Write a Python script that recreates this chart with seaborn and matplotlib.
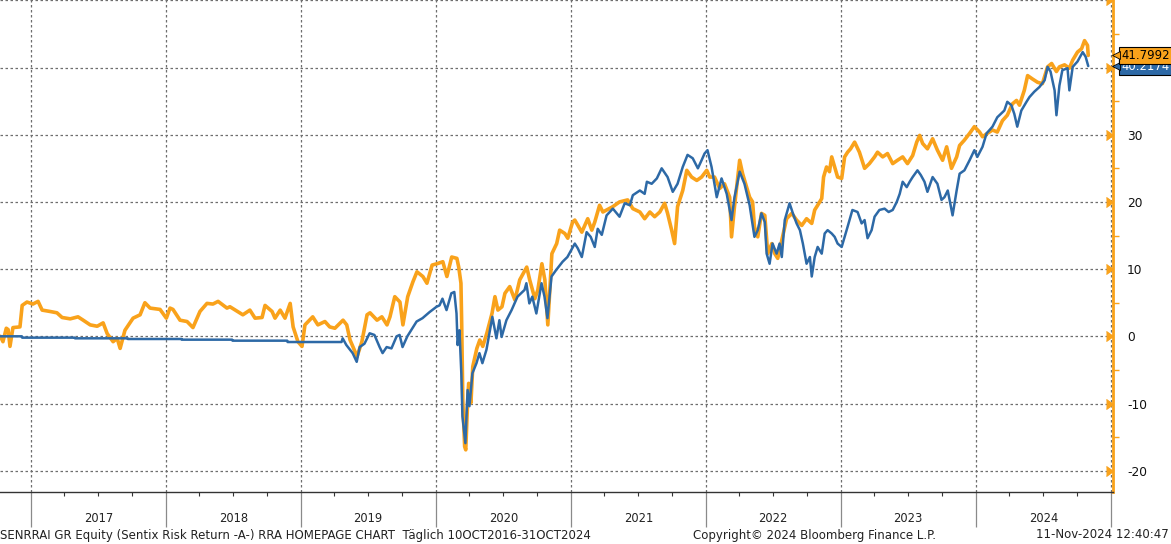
import numpy as np
import pandas as pd
import matplotlib
matplotlib.use("Agg")
import matplotlib.pyplot as plt
import matplotlib.dates as mdates
import matplotlib.transforms as mtransforms
import seaborn as sns

# --- data (percent performance) ---
orange_dates = [
    "2016-10-10", "2016-10-17", "2016-10-26", "2016-10-31", "2016-11-05", "2016-11-13", "2016-12-02",
    "2016-12-08", "2016-12-21", "2017-01-06", "2017-01-20", "2017-01-31", "2017-02-21", "2017-03-12",
    "2017-03-26", "2017-04-17", "2017-05-08", "2017-05-22", "2017-06-10", "2017-06-29", "2017-07-15",
    "2017-07-26", "2017-08-11", "2017-08-22", "2017-08-30", "2017-09-12", "2017-10-04", "2017-10-23",
    "2017-11-05", "2017-11-19", "2017-12-16", "2018-01-02", "2018-01-12", "2018-01-20", "2018-02-08",
    "2018-02-27", "2018-03-15", "2018-04-03", "2018-04-22", "2018-05-08", "2018-05-22", "2018-06-15",
    "2018-06-23", "2018-07-28", "2018-08-16", "2018-08-30", "2018-09-18", "2018-09-26", "2018-10-15",
    "2018-10-23", "2018-11-06", "2018-11-19", "2018-12-03", "2018-12-11", "2018-12-24", "2019-01-04",
    "2019-01-12", "2019-02-02", "2019-02-16", "2019-03-07", "2019-03-20", "2019-04-03", "2019-04-25",
    "2019-05-05", "2019-05-14", "2019-06-02", "2019-06-15", "2019-06-29", "2019-07-07", "2019-07-26",
    "2019-08-08", "2019-08-22", "2019-08-30", "2019-09-12", "2019-09-26", "2019-10-04", "2019-10-17",
    "2019-10-31", "2019-11-11", "2019-11-27", "2019-12-08", "2019-12-22", "2020-01-04", "2020-01-20",
    "2020-01-31", "2020-02-13", "2020-02-27", "2020-03-03", "2020-03-09", "2020-03-11", "2020-03-14",
    "2020-03-19", "2020-03-22", "2020-03-28", "2020-03-30", "2020-04-05", "2020-04-10", "2020-04-21",
    "2020-04-29", "2020-05-07", "2020-05-18", "2020-06-01", "2020-06-09", "2020-06-17", "2020-06-28",
    "2020-07-06", "2020-07-19", "2020-08-02", "2020-08-15", "2020-09-03", "2020-09-11", "2020-09-25",
    "2020-10-03", "2020-10-14", "2020-10-22", "2020-10-30", "2020-11-10", "2020-11-23", "2020-12-01",
    "2020-12-15", "2020-12-23", "2021-01-05", "2021-01-11", "2021-01-30", "2021-02-15", "2021-02-26",
    "2021-03-06", "2021-03-19", "2021-03-28", "2021-04-24", "2021-05-12", "2021-06-03", "2021-06-17",
    "2021-07-06", "2021-07-19", "2021-08-02", "2021-08-15", "2021-08-29", "2021-09-11", "2021-09-19",
    "2021-09-30", "2021-10-08", "2021-10-16", "2021-10-30", "2021-11-10", "2021-11-23", "2021-12-07",
    "2021-12-20", "2022-01-03", "2022-01-11", "2022-01-24", "2022-02-07", "2022-02-20", "2022-03-06",
    "2022-03-11", "2022-03-19", "2022-04-02", "2022-04-10", "2022-04-29", "2022-05-07", "2022-05-12",
    "2022-05-21", "2022-05-31", "2022-06-09", "2022-06-17", "2022-06-28", "2022-07-06", "2022-07-14",
    "2022-07-25", "2022-08-07", "2022-08-21", "2022-09-03", "2022-09-17", "2022-09-30", "2022-10-14",
    "2022-10-22", "2022-10-30", "2022-11-10", "2022-11-15", "2022-11-23", "2022-12-01", "2022-12-07",
    "2022-12-15", "2022-12-23", "2023-01-03", "2023-01-11", "2023-01-19", "2023-01-27", "2023-02-07",
    "2023-02-20", "2023-03-06", "2023-03-19", "2023-04-02", "2023-04-10", "2023-04-24", "2023-05-07",
    "2023-05-21", "2023-06-03", "2023-06-17", "2023-06-30", "2023-07-14", "2023-07-25", "2023-08-02",
    "2023-08-10", "2023-08-23", "2023-09-06", "2023-09-19", "2023-10-03", "2023-10-14", "2023-10-27",
    "2023-11-10", "2023-11-18", "2023-12-01", "2023-12-15", "2023-12-28", "2024-01-11", "2024-01-19",
    "2024-02-01", "2024-02-15", "2024-02-28", "2024-03-13", "2024-03-26", "2024-04-09", "2024-04-20",
    "2024-04-28", "2024-05-11", "2024-05-20", "2024-06-02", "2024-06-16", "2024-06-29", "2024-07-13",
    "2024-07-24", "2024-08-06", "2024-08-14", "2024-08-28", "2024-09-10", "2024-09-19", "2024-10-02",
    "2024-10-13", "2024-10-21", "2024-10-29", "2024-10-31",
]
orange_values = [
    0.0, -0.8, 1.2, 1.0, -1.5, 1.3, 1.4,
    4.6, 5.1, 4.8, 5.2, 3.9, 3.7, 3.5,
    2.8, 2.6, 2.9, 2.4, 1.7, 1.5, 2.0,
    0.4, -0.8, -0.3, -1.8, 0.9, 2.7, 3.2,
    5.0, 4.2, 4.0, 2.7, 4.2, 4.0, 2.4,
    2.2, 1.3, 3.7, 4.9, 4.8, 5.2, 4.2,
    4.4, 3.2, 3.9, 2.7, 2.8, 4.6, 3.7,
    2.7, 3.9, 2.7, 4.9, 1.4, -0.8, -1.5,
    1.7, 2.9, 1.7, 2.2, 1.4, 1.2, 2.4,
    1.7, -0.55, -3.0, -0.8, 3.2, 3.5, 2.4,
    2.9, 1.7, 2.9, 5.9, 5.1, 1.7, 5.9,
    8.1, 9.6, 8.9, 7.9, 10.6, 10.8, 11.1,
    8.9, 11.8, 11.6, 10.3, 7.9, 1.9, -9.5,
    -16.4, -16.9, -8.5, -7.0, -9.9, -4.5, -1.8,
    -0.55, -1.5, 0.45, 3.4, 5.9, 3.9, 4.4,
    6.4, 7.4, 5.4, 8.4, 10.3, 8.4, 5.6,
    6.9, 10.8, 8.4, 1.7, 12.3, 13.8, 15.8,
    15.3, 14.6, 17.0, 17.3, 15.5, 17.5, 15.8,
    17.0, 19.5, 18.5, 19.3, 20.0, 20.3, 19.0,
    18.5, 17.5, 18.5, 17.8, 18.5, 19.8, 18.3,
    15.8, 13.8, 19.3, 21.7, 24.7, 23.7, 23.2,
    23.7, 24.7, 23.7, 23.7, 22.0, 22.7, 20.7,
    14.8, 19.3, 26.2, 24.2, 20.7, 20.0, 16.3,
    14.8, 18.3, 18.0, 12.3, 13.8, 12.3, 11.6,
    14.3, 17.5, 18.3, 17.3, 16.5, 17.5, 16.8,
    18.8, 19.5, 20.5, 23.7, 25.2, 24.5, 26.7,
    25.2, 23.7, 23.5, 26.7, 27.4, 27.9, 28.9,
    27.4, 25.0, 25.7, 26.7, 27.4, 26.7, 27.2,
    25.7, 26.2, 26.7, 25.7, 26.9, 28.9, 29.9,
    28.7, 27.9, 29.4, 27.7, 26.2, 28.2, 25.0,
    26.7, 28.4, 29.2, 30.2, 31.2, 30.4, 29.7,
    30.2, 30.7, 30.4, 32.1, 32.9, 34.6, 35.1,
    34.4, 36.6, 38.8, 38.3, 37.8, 37.6, 40.1,
    40.6, 39.4, 40.1, 40.4, 39.9, 41.1, 42.3,
    42.8, 44.0, 43.3, 41.7992,
]

blue_dates = [
    "2016-10-10", "2016-12-07", "2016-12-08", "2017-04-29", "2017-04-30", "2017-09-19", "2017-09-20",
    "2018-02-12", "2018-02-13", "2018-06-29", "2018-06-30", "2018-11-25", "2018-11-26", "2019-04-21",
    "2019-04-24", "2019-05-04", "2019-05-21", "2019-06-01", "2019-06-09", "2019-06-22", "2019-07-06",
    "2019-07-19", "2019-08-02", "2019-08-10", "2019-08-21", "2019-09-03", "2019-09-17", "2019-09-25",
    "2019-10-03", "2019-10-16", "2019-11-10", "2019-11-26", "2019-12-15", "2020-01-03", "2020-01-11",
    "2020-01-19", "2020-01-30", "2020-02-12", "2020-02-20", "2020-02-26", "2020-02-29", "2020-03-05",
    "2020-03-10", "2020-03-13", "2020-03-21", "2020-03-27", "2020-04-01", "2020-04-09", "2020-04-20",
    "2020-04-28", "2020-05-06", "2020-05-17", "2020-06-02", "2020-06-13", "2020-06-21", "2020-06-27",
    "2020-07-10", "2020-07-24", "2020-08-09", "2020-08-28", "2020-09-02", "2020-09-10", "2020-09-18",
    "2020-09-29", "2020-10-13", "2020-10-21", "2020-10-29", "2020-11-09", "2020-11-22", "2020-12-09",
    "2020-12-22", "2021-01-11", "2021-01-19", "2021-01-30", "2021-02-12", "2021-02-23", "2021-03-06",
    "2021-03-14", "2021-03-25", "2021-04-07", "2021-04-24", "2021-05-12", "2021-05-26", "2021-06-09",
    "2021-06-17", "2021-07-06", "2021-07-19", "2021-07-25", "2021-08-07", "2021-08-21", "2021-09-03",
    "2021-09-19", "2021-10-03", "2021-10-16", "2021-10-30", "2021-11-12", "2021-11-26", "2021-12-10",
    "2021-12-20", "2021-12-28", "2022-01-05", "2022-01-16", "2022-01-30", "2022-02-12", "2022-02-26",
    "2022-03-11", "2022-03-19", "2022-04-02", "2022-04-15", "2022-04-29", "2022-05-12", "2022-05-21",
    "2022-05-31", "2022-06-09", "2022-06-14", "2022-06-22", "2022-06-30", "2022-07-11", "2022-07-19",
    "2022-07-25", "2022-08-02", "2022-08-15", "2022-08-24", "2022-09-03", "2022-09-12", "2022-09-20",
    "2022-09-30", "2022-10-09", "2022-10-14", "2022-10-22", "2022-10-30", "2022-11-10", "2022-11-18",
    "2022-11-26", "2022-12-07", "2022-12-15", "2022-12-23", "2023-01-03", "2023-01-11", "2023-01-19",
    "2023-02-01", "2023-02-15", "2023-02-26", "2023-03-06", "2023-03-14", "2023-03-25", "2023-04-02",
    "2023-04-15", "2023-04-29", "2023-05-10", "2023-05-21", "2023-06-01", "2023-06-09", "2023-06-17",
    "2023-06-28", "2023-07-06", "2023-07-14", "2023-07-27", "2023-08-05", "2023-08-15", "2023-08-23",
    "2023-09-06", "2023-09-19", "2023-09-30", "2023-10-08", "2023-10-17", "2023-10-22", "2023-10-30",
    "2023-11-10", "2023-11-18", "2023-12-01", "2023-12-15", "2023-12-28", "2024-01-05", "2024-01-19",
    "2024-01-30", "2024-02-15", "2024-02-28", "2024-03-18", "2024-03-26", "2024-04-06", "2024-04-14",
    "2024-04-22", "2024-05-03", "2024-05-17", "2024-05-25", "2024-06-07", "2024-06-21", "2024-07-05",
    "2024-07-13", "2024-07-21", "2024-08-01", "2024-08-06", "2024-08-14", "2024-08-22", "2024-09-05",
    "2024-09-10", "2024-09-19", "2024-10-02", "2024-10-16", "2024-10-24", "2024-10-31",
]
blue_values = [
    0.0, 0.0, -0.2, -0.2, -0.3, -0.3, -0.4,
    -0.4, -0.5, -0.5, -0.65, -0.65, -0.85, -0.85,
    -0.3, -1.3, -2.5, -3.8, -1.6, -1.1, 0.45,
    0.2, -1.6, -2.5, -1.6, -1.8, 0.0, 0.2,
    -1.6, 0.0, 2.2, 2.7, 3.6, 4.4, 4.6,
    5.6, 3.9, 6.4, 6.6, 3.4, -1.3, 0.9,
    -5.5, -11.9, -15.9, -8.0, -10.4, -5.5, -4.0,
    -2.5, -4.0, -2.0, 2.9, -0.3, 2.4, -0.1,
    2.4, 3.9, 5.9, 6.9, 7.9, 4.9, 5.9,
    3.4, 7.9, 5.9, 2.7, 8.9, 9.9, 11.1,
    11.8, 13.8, 13.1, 11.8, 15.5, 14.8, 13.3,
    16.0, 15.1, 18.0, 19.0, 17.8, 19.8, 19.5,
    21.0, 21.7, 21.2, 23.0, 22.7, 23.5, 25.0,
    23.7, 21.5, 22.7, 25.2, 27.0, 26.5, 25.0,
    26.2, 27.2, 27.7, 25.2, 20.7, 23.5, 21.2,
    17.3, 20.7, 24.5, 22.7, 19.5, 14.8, 15.8,
    18.3, 17.0, 12.3, 10.8, 13.8, 12.3, 13.8,
    11.8, 17.3, 19.8, 18.3, 16.8, 15.8, 13.8,
    10.8, 11.8, 8.9, 11.8, 13.3, 12.3, 15.3,
    15.8, 15.3, 14.8, 13.8, 13.3, 14.8, 16.3,
    18.8, 18.5, 16.8, 17.3, 14.6, 15.8, 17.8,
    18.8, 19.0, 18.5, 18.8, 20.0, 21.2, 23.0,
    22.2, 23.0, 23.7, 24.7, 24.0, 23.0, 21.5,
    23.7, 22.7, 20.3, 20.7, 21.7, 20.3, 18.0,
    21.7, 24.2, 24.7, 26.2, 27.7, 26.7, 28.2,
    30.2, 31.2, 32.6, 33.6, 34.9, 34.4, 33.1,
    31.2, 33.6, 34.9, 35.6, 36.4, 37.1, 38.1,
    40.1, 39.4, 36.6, 32.9, 37.3, 39.6, 39.9,
    36.6, 40.1, 40.9, 42.3, 41.6, 40.2174,
]

year_labels = ["2017", "2018", "2019", "2020", "2021", "2022", "2023", "2024"]
y_ticks = [-20, -10, 0, 10, 20, 30, 40, 50]

footer_left = "SENRRAI GR Equity (Sentix Risk Return -A-) RRA HOMEPAGE CHART  Täglich 10OCT2016-31OCT2024"
footer_mid = "Copyright\u00a9 2024 Bloomberg Finance L.P."
footer_right = "11-Nov-2024 12:40:47"

ORANGE = "#F9A21B"
BLUE = "#2D69A6"

df_orange = pd.DataFrame({"date": pd.to_datetime(orange_dates), "value": orange_values})
df_blue = pd.DataFrame({"date": pd.to_datetime(blue_dates), "value": blue_values})

sns.set_style("white")
plt.rcParams["font.family"] = ["DejaVu Sans"]

fig = plt.figure(figsize=(11.71, 5.44), dpi=100)
ax = fig.add_axes([0.0, 1 - 492 / 544, 1113 / 1171, 492 / 544])

sns.lineplot(data=df_orange, x="date", y="value", ax=ax, color=ORANGE, lw=2.6, zorder=3)
sns.lineplot(data=df_blue, x="date", y="value", ax=ax, color=BLUE, lw=1.8, zorder=4)

ax.set_xlim(pd.Timestamp("2016-10-09"), pd.Timestamp("2025-01-06"))
ax.set_ylim(-23.17, 50.05)
ax.set_xlabel("")
ax.set_ylabel("")

# x axis: year boundaries + quarter ticks, year names centred under each year
ax.xaxis.set_major_locator(mdates.YearLocator())
ax.xaxis.set_minor_locator(mdates.MonthLocator(bymonth=[4, 7, 10]))
ax.xaxis.set_major_formatter(plt.NullFormatter())
ax.tick_params(axis="x", which="major", direction="out", length=25, width=0.9, color="#8a8a8a", bottom=True)
ax.tick_params(axis="x", which="minor", direction="out", length=3, width=0.8, color="#333333", bottom=True)
xt = mtransforms.blended_transform_factory(ax.transData, ax.transAxes)
for lab in year_labels:
    mid = mdates.date2num(pd.Timestamp(f"{lab}-07-02"))
    ax.text(mid, -0.053, lab, transform=xt, ha="center", va="center", fontsize=8.3, color="#222222")

# y axis on the right, orange spine with caret ticks
ax.yaxis.tick_right()
ax.set_yticks(y_ticks)
ax.set_yticklabels([str(t) if t != 50 else "" for t in y_ticks])
ax.yaxis.set_minor_locator(plt.MultipleLocator(5))
ax.tick_params(axis="y", which="major", right=True, left=False, length=0, pad=10, labelsize=8.8, labelcolor="#111111")
ax.tick_params(axis="y", which="minor", right=True, left=False, direction="out", length=4, width=1, color=ORANGE)
for tk in ax.yaxis.get_major_ticks():
    tk.tick2line.set_marker(5)
    tk.tick2line.set_markersize(7)
    tk.tick2line.set_markerfacecolor(ORANGE)
    tk.tick2line.set_markeredgecolor(ORANGE)
    tk.tick2line.set_visible(True)

ax.grid(True, which="major", axis="both", color="#6e6e6e", ls=(0, (2, 2)), lw=0.9)
ax.set_axisbelow(True)

for side in ["left", "top"]:
    ax.spines[side].set_visible(False)
ax.spines["right"].set_color(ORANGE)
ax.spines["right"].set_linewidth(2)
ax.spines["bottom"].set_color("#333333")
ax.spines["bottom"].set_linewidth(1)

# last value tags (orange drawn on top of blue, as in the terminal chart)
yt = mtransforms.blended_transform_factory(ax.transAxes, ax.transData)
tags = [(blue_values[-1], BLUE, "white"), (orange_values[-1], ORANGE, "black")]
for i, (val, fc, tc) in enumerate(tags):
    ax.text(1.0, val, f"{val:.4f}", transform=mtransforms.offset_copy(yt, fig, x=8, units="dots"),
            ha="left", va="center", fontsize=8.4, color=tc, clip_on=False, zorder=10 + 2 * i,
            bbox=dict(boxstyle="square,pad=0.2", fc=fc, ec="black", lw=0.8))
    ax.plot([1.0], [val], transform=mtransforms.offset_copy(yt, fig, x=3, units="dots"),
            marker="<", ms=6, mfc=fc, mec="black", mew=0.6, clip_on=False, zorder=11 + 2 * i)

fig.text(0.0, 1 - 535 / 544, footer_left, ha="left", va="center", fontsize=8.5, color="#222222")
fig.text(693 / 1171, 1 - 535 / 544, footer_mid, ha="left", va="center", fontsize=8.5, color="#222222")
fig.text(0.998, 1 - 535 / 544, footer_right, ha="right", va="center", fontsize=8.5, color="#222222")

fig.savefig("out.png", dpi=100, facecolor="white")
